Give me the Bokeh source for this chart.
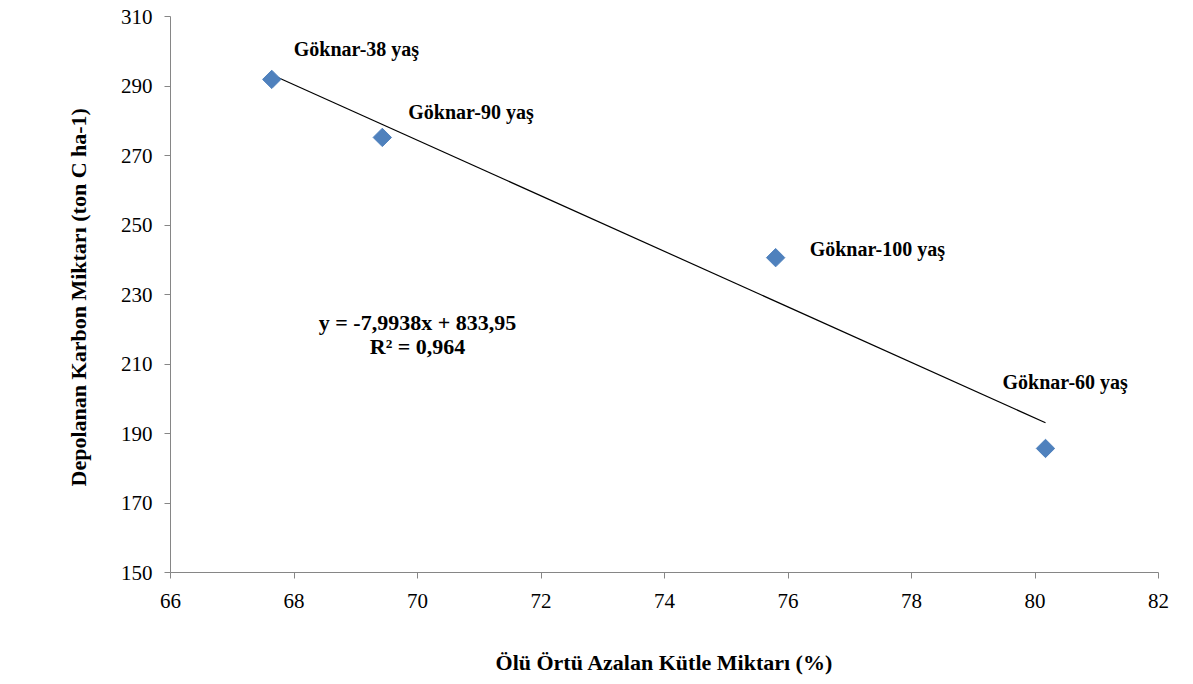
import numpy as np
from bokeh.plotting import figure
from bokeh.models import Range1d, ColumnDataSource, Label, FixedTicker
from bokeh.embed import file_html
from bokeh.resources import INLINE

# data
names = ["Göknar-38 yaş", "Göknar-90 yaş", "Göknar-100 yaş", "Göknar-60 yaş"]
x_vals = [67.64, 69.43, 75.80, 80.17]
y_vals = [291.9, 275.2, 240.6, 185.7]
slope = -7.9938
intercept = 833.95
r2_text = "R² = 0,964"
eq_text = "y = -7,9938x + 833,95"
x_ticks = [66, 68, 70, 72, 74, 76, 78, 80, 82]
y_ticks = [150, 170, 190, 210, 230, 250, 270, 290, 310]

# label offsets (screen px)
lab_dx = [22, 26, 34, -43]
lab_dy = [30, 25, 9, 66]

FONT = "'Liberation Serif', 'Times New Roman', serif"
AXIS_COL = "#868686"

p = figure(width=1177, height=684, output_backend="svg", toolbar_location=None,
           x_range=Range1d(66, 82), y_range=Range1d(150, 310),
           min_border_left=170, min_border_right=19, min_border_top=16, min_border_bottom=112)
p.outline_line_color = None
p.xgrid.visible = False
p.ygrid.visible = False
p.background_fill_color = "white"
p.border_fill_color = "white"

for ax in (p.xaxis[0], p.yaxis[0]):
    ax.axis_line_color = AXIS_COL
    ax.major_tick_line_color = AXIS_COL
    ax.minor_tick_line_color = None
    ax.major_tick_out = 6
    ax.major_tick_in = 0
    ax.major_label_text_font = FONT
    ax.major_label_text_font_size = "21px"
    ax.major_label_text_color = "black"
    ax.axis_label_text_font = FONT
    ax.axis_label_text_font_size = "22px"
    ax.axis_label_text_font_style = "bold"
    ax.axis_label_text_color = "black"

p.xaxis.ticker = FixedTicker(ticks=x_ticks)
p.yaxis.ticker = FixedTicker(ticks=y_ticks)
p.xaxis.axis_label = "Ölü Örtü Azalan Kütle Miktarı (%)"
p.yaxis.axis_label = "Depolanan Karbon  Miktarı (ton C ha-1)"
p.xaxis.major_label_standoff = 15
p.xaxis.axis_label_standoff = 39
p.yaxis.major_label_standoff = 12
p.yaxis.axis_label_standoff = 27

# trendline
tx = np.array([min(x_vals), max(x_vals)])
ty = slope * tx + intercept
p.line(tx, ty, line_color="black", line_width=1.2)

src = ColumnDataSource(dict(x=x_vals, y=y_vals, name=names))
p.scatter("x", "y", source=src, marker="square", size=13, angle=np.pi / 4,
          fill_color="#4F81BD", line_color="#4F81BD")

for i in range(len(names)):
    p.add_layout(Label(x=x_vals[i], y=y_vals[i], x_offset=lab_dx[i], y_offset=lab_dy[i],
                       text=names[i], text_font=FONT, text_font_size="20px",
                       text_font_style="bold", text_baseline="middle", text_align="left",
                       text_color="black"))

p.add_layout(Label(x=70.0, y=221.9, text=eq_text, text_font=FONT, text_font_size="22px",
                   text_font_style="bold", text_align="center", text_baseline="middle",
                   text_color="black"))
p.add_layout(Label(x=70.0, y=215.0, text=r2_text, text_font=FONT, text_font_size="22px",
                   text_font_style="bold", text_align="center", text_baseline="middle",
                   text_color="black"))

open("out.html", "w").write(file_html(p, INLINE))
